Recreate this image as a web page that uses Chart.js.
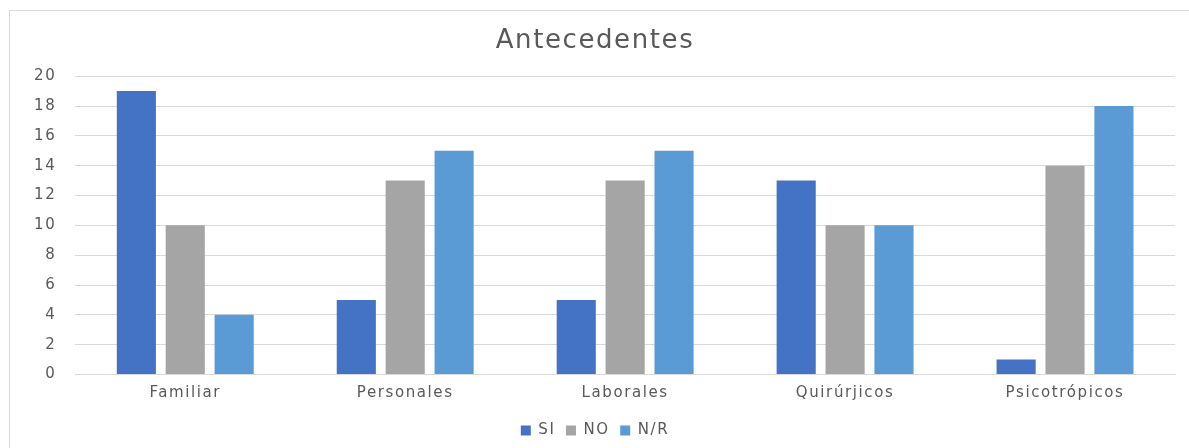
<!DOCTYPE html>
<html lang="es">
<head>
    <meta charset="UTF-8">
    <title>Antecedentes</title>
    <script src="https://cdn.jsdelivr.net/npm/chart.js"></script>
    <style>
        html, body { margin: 0; padding: 0; background: #fff; overflow: hidden; }
        .frame { position: absolute; left: 9px; top: 10px; width: 1190px; height: 450px; border: 1px solid #d9d9d9; box-sizing: border-box; }
        .wrap { position: absolute; left: 0; top: 0; width: 1189px; height: 448px; }
    </style>
</head>
<body>
    <div class="frame"></div>
    <div class="wrap"><canvas id="chart" width="1189" height="448"></canvas></div>
    <script>
        // datos
        const categories = ['Familiar', 'Personales', 'Laborales', 'Quirúrjicos', 'Psicotrópicos'];
        const siValues = [19, 5, 5, 13, 1];
        const noValues = [10, 13, 13, 10, 14];
        const nrValues = [4, 15, 15, 10, 18];
        const seriesNames = ['SI', 'NO', 'N/R'];
        const seriesColors = ['#4472C4', '#A5A5A5', '#5B9BD5'];

        const textColor = '#595959';
        const fontFamily = "'DejaVu Sans', 'Open Sans', sans-serif";

        // texto un poco mas ancho, como en el original
        const spacing = {
            id: 'spacing',
            beforeLayout(chart) { chart.ctx.letterSpacing = '1.6px'; },
            beforeDraw(chart) { chart.ctx.letterSpacing = '1.6px'; }
        };

        const ctx = document.getElementById('chart').getContext('2d');
        const chart = new Chart(ctx, {
            type: 'bar',
            data: {
                labels: categories,
                datasets: [siValues, noValues, nrValues].map((vals, i) => ({
                    label: seriesNames[i],
                    data: vals,
                    backgroundColor: seriesColors[i],
                    borderWidth: 0,
                    categoryPercentage: 0.667,
                    barPercentage: 0.8
                }))
            },
            options: {
                responsive: false,
                animation: false,
                layout: { padding: { left: 15, right: 14, top: 18, bottom: 0 } },
                plugins: {
                    title: {
                        display: true,
                        text: 'Antecedentes',
                        color: textColor,
                        font: { family: fontFamily, size: 26, weight: 'normal' },
                        padding: { top: 8, bottom: 19 }
                    },
                    legend: {
                        position: 'bottom',
                        labels: {
                            color: textColor,
                            font: { family: fontFamily, size: 15 },
                            boxWidth: 10,
                            boxHeight: 10,
                            padding: 10.5
                        }
                    },
                    tooltip: { enabled: false }
                },
                scales: {
                    x: {
                        grid: { display: false, drawTicks: false },
                        border: { color: '#d9d9d9' },
                        ticks: { color: textColor, font: { family: fontFamily, size: 15 }, padding: 10 }
                    },
                    y: {
                        min: 0,
                        max: 20,
                        ticks: { stepSize: 2, color: textColor, font: { family: fontFamily, size: 15 }, padding: 19 },
                        grid: { color: '#d9d9d9', drawTicks: false },
                        border: { display: false }
                    }
                }
            },
            plugins: [spacing]
        });
    </script>
</body>
</html>
